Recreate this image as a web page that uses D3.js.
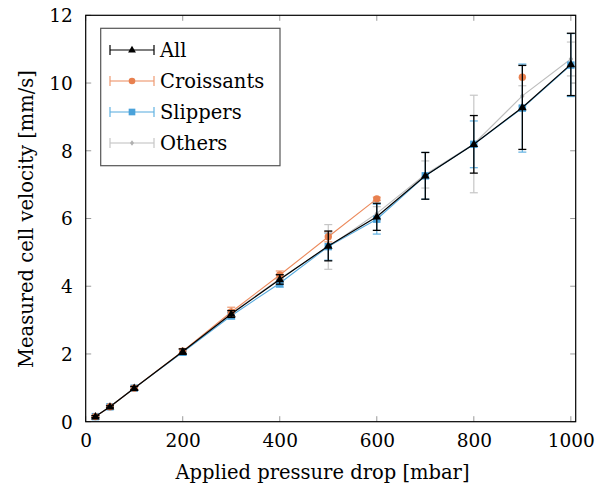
<!DOCTYPE html>
<html><head><meta charset="utf-8">
<script src="https://cdn.jsdelivr.net/npm/d3@7"></script>
<style>body{margin:0;background:#fff}svg{display:block}text{font-family:"DejaVu Serif",serif;fill:#000}</style>
</head><body><svg id="c" width="595" height="492"></svg>
<script>
const pressures = [20, 50, 100, 200, 300, 400, 500, 600, 700, 800, 900, 1000];
const allV   = [0.15, 0.44, 0.99, 2.07, 3.18, 4.20, 5.19, 6.05, 7.26, 8.19, 9.28, 10.55];
const allE   = [0.03, 0.03, 0.05, 0.08, 0.10, 0.14, 0.44, 0.40, 0.69, 0.85, 1.24, 0.92];
const croV   = [0.15, 0.44, 0.99, 2.08, 3.24, 4.33, 5.46, 6.58, null, null, 10.17, null];
const croE   = [0.03, 0.03, 0.05, 0.08, 0.14, 0.12, 0.15, 0.05, null, null, 0, null];
const sliV   = [0.15, 0.44, 0.99, 2.05, 3.13, 4.09, 5.17, 5.98, 7.26, 8.19, 9.26, 10.53];
const sliE   = [0.03, 0.03, 0.05, 0.08, 0.10, 0.12, 0.40, 0.44, 0.69, 0.69, 1.30, 0.93];
const othV   = [0.15, 0.44, 0.99, 2.07, 3.20, 4.22, 5.16, 6.15, 7.30, 8.20, 9.62, 10.71];
const othE   = [0.03, 0.03, 0.05, 0.08, 0.10, 0.12, 0.66, 0.20, 0.40, 1.44, 0.30, 0.50];
const xTicks = [0, 200, 400, 600, 800, 1000];
const yTicks = [0, 2, 4, 6, 8, 10, 12];
const seriesNames = ["All", "Croissants", "Slippers", "Others"];

const svg = d3.select("#c");
const L = 85.7, R = 575.7, T = 15.3, B = 421.7;
const x = d3.scaleLinear().domain([0, 1010]).range([L, R]);
const y = d3.scaleLinear().domain([0, 12]).range([B, T]);

const styles = {
  All:        {color: "#000000", line: "#000000", marker: "triangle", err: "#000000"},
  Croissants: {color: "#E8804F", line: "#EC8A5C", marker: "circle", err: "#EE9A72"},
  Slippers:   {color: "#4AA2DA", line: "#55AADE", marker: "square", err: "#62B2E2"},
  Others:     {color: "#B0B0B0", line: "#BDBDBD", marker: "diamond", err: "#C6C6C6"}
};
const data = {
  All: [allV, allE], Croissants: [croV, croE], Slippers: [sliV, sliE], Others: [othV, othE]
};

// ticks (inward, gray, mirrored)
const tickG = svg.append("g").attr("stroke", "#9a9a9a").attr("stroke-width", 1);
xTicks.forEach(t => {
  tickG.append("line").attr("x1", x(t)).attr("x2", x(t)).attr("y1", B).attr("y2", B - 5.5);
  tickG.append("line").attr("x1", x(t)).attr("x2", x(t)).attr("y1", T).attr("y2", T + 5.5);
});
yTicks.forEach(t => {
  tickG.append("line").attr("y1", y(t)).attr("y2", y(t)).attr("x1", L).attr("x2", L + 5.5);
  tickG.append("line").attr("y1", y(t)).attr("y2", y(t)).attr("x1", R).attr("x2", R - 5.5);
});

// axes via d3 (labels only)
const xAxis = d3.axisBottom(x).tickValues(xTicks).tickSize(0).tickPadding(0).tickFormat(d3.format("d"));
const gx = svg.append("g").attr("transform", `translate(0,${B})`).call(xAxis);
gx.select(".domain").remove();
gx.selectAll("text").attr("y", 25).attr("dy", 0).style("font-size", "18.5px").style("font-family", '"DejaVu Serif",serif');
const yAxis = d3.axisLeft(y).tickValues(yTicks).tickSize(0).tickPadding(0).tickFormat(d3.format("d"));
const gy = svg.append("g").attr("transform", `translate(${L},0)`).call(yAxis);
gy.select(".domain").remove();
gy.selectAll("text").attr("x", -13).attr("dy", "0.35em").style("font-size", "18.5px").style("font-family", '"DejaVu Serif",serif');

const clip = svg.append("g");

function marker(g, type, cx, cy, color, s) {
  if (type === "triangle") {
    const r = 4.6 * s;
    g.append("path").attr("d", `M${cx},${cy - r}L${cx + r * 0.95},${cy + r * 0.6}L${cx - r * 0.95},${cy + r * 0.6}Z`).attr("fill", color);
  } else if (type === "circle") {
    g.append("circle").attr("cx", cx).attr("cy", cy).attr("r", 3.7 * s).attr("fill", color);
  } else if (type === "square") {
    const h = 3.7 * s;
    g.append("rect").attr("x", cx - h).attr("y", cy - h).attr("width", 2 * h).attr("height", 2 * h).attr("fill", color);
  } else {
    const h = 3 * s;
    g.append("path").attr("d", `M${cx},${cy - h}L${cx + h * 0.75},${cy}L${cx},${cy + h}L${cx - h * 0.75},${cy}Z`).attr("fill", color);
  }
}

// draw order: Others, Slippers, Croissants, All on top
["Others", "Slippers", "Croissants", "All"].forEach(name => {
  const st = styles[name];
  const [vals, errs] = data[name];
  const g = clip.append("g");
  const pts = pressures.map((p, i) => ({p, v: vals[i], e: errs[i]}));
  const line = d3.line().defined(d => d.v !== null).x(d => x(d.p)).y(d => y(d.v));
  g.append("path").datum(pts).attr("d", line).attr("fill", "none").attr("stroke", st.line).attr("stroke-width", name === "All" ? 1.2 : 1.1);
  const eg = g.append("g").attr("stroke", st.err).attr("stroke-width", name === "All" ? 1.3 : 1.2);
  pts.filter(d => d.v !== null && d.e > 0).forEach(d => {
    const cx = x(d.p), y1 = y(d.v + d.e), y2 = y(d.v - d.e);
    eg.append("line").attr("x1", cx).attr("x2", cx).attr("y1", y1).attr("y2", y2);
    eg.append("line").attr("x1", cx - 4).attr("x2", cx + 4).attr("y1", y1).attr("y2", y1);
    eg.append("line").attr("x1", cx - 4).attr("x2", cx + 4).attr("y1", y2).attr("y2", y2);
  });
  pts.filter(d => d.v !== null).forEach(d => marker(g, st.marker, x(d.p), y(d.v), st.color, 1));
});

// frame
svg.append("rect").attr("x", L).attr("y", T).attr("width", R - L).attr("height", B - T)
  .attr("fill", "none").attr("stroke", "#000").attr("stroke-width", 1.2);

// legend
const lg = svg.append("g");
lg.append("rect").attr("x", 100.7).attr("y", 28.3).attr("width", 179.3).attr("height", 137.4)
  .attr("fill", "#fff").attr("stroke", "#555").attr("stroke-width", 1.2);
seriesNames.forEach((name, i) => {
  const st = styles[name];
  const cy = 50 + i * 31;
  const gg = lg.append("g").attr("stroke", st.err).attr("stroke-width", 1.2);
  gg.append("line").attr("x1", 110).attr("x2", 154).attr("y1", cy).attr("y2", cy).attr("stroke", st.line);
  gg.append("line").attr("x1", 110).attr("x2", 110).attr("y1", cy - 5).attr("y2", cy + 5);
  gg.append("line").attr("x1", 154).attr("x2", 154).attr("y1", cy - 5).attr("y2", cy + 5);
  marker(lg, st.marker, 132, cy, st.color, 0.9);
  lg.append("text").attr("x", 160).attr("y", cy).attr("dy", "0.35em").style("font-size", "19.5px").text(name);
});

// axis titles
svg.append("text").attr("x", 322.5).attr("y", 479).attr("text-anchor", "middle").style("font-size", "19.5px")
  .text("Applied pressure drop [mbar]");
svg.append("text").attr("transform", `translate(33,219) rotate(-90)`).attr("text-anchor", "middle").style("font-size", "19.5px")
  .text("Measured cell velocity [mm/s]");
</script></body></html>
